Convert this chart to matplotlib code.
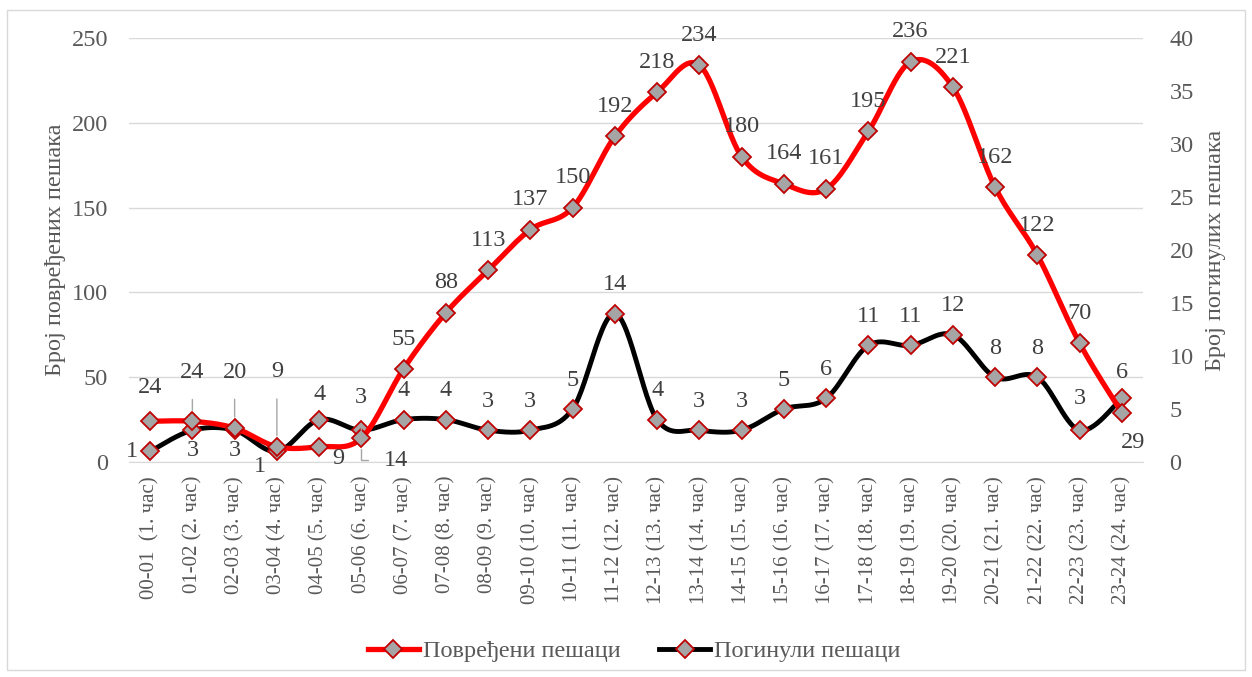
import numpy as np
import matplotlib
matplotlib.use("Agg")
import matplotlib.pyplot as plt
from matplotlib.lines import Line2D
from matplotlib.patches import Rectangle

plt.rcParams['font.family'] = ['Liberation Serif', 'DejaVu Serif']

categories = ["00-01  (1. час)", "01-02 (2. час)", "02-03 (3. час)", "03-04 (4. час)",
              "04-05 (5. час)", "05-06 (6. час)", "06-07 (7. час)", "07-08 (8. час)",
              "08-09 (9. час)", "09-10 (10. час)", "10-11 (11. час)", "11-12 (12. час)",
              "12-13 (13. час)", "13-14 (14. час)", "14-15 (15. час)", "15-16 (16. час)",
              "16-17 (17. час)", "17-18 (18. час)", "18-19 (19. час)", "19-20 (20. час)",
              "20-21 (21. час)", "21-22 (22. час)", "22-23 (23. час)", "23-24 (24. час)"]
injured = [24, 24, 20, 9, 9, 14, 55, 88, 113, 137, 150, 192, 218, 234, 180, 164, 161,
           195, 236, 221, 162, 122, 70, 29]
killed = [1, 3, 3, 1, 4, 3, 4, 4, 3, 3, 5, 14, 4, 3, 3, 5, 6, 11, 11, 12, 8, 8, 3, 6]
left_ticks = [0, 50, 100, 150, 200, 250]
right_ticks = [0, 5, 10, 15, 20, 25, 30, 35, 40]

TXT = '#595959'
GRID = '#D9D9D9'
FS = 17.5


def smooth(xs, ys, n=30):
    xs = np.asarray(xs, float)
    ys = np.asarray(ys, float)
    P = np.column_stack([xs, ys])
    m = len(P)
    out = []
    for i in range(m - 1):
        p0 = P[i - 1] if i > 0 else P[i]
        p1 = P[i]
        p2 = P[i + 1]
        p3 = P[i + 2] if i + 2 < m else P[i + 1]
        c1 = p1 + (p2 - p0) / 6.0
        c2 = p2 - (p3 - p1) / 6.0
        t = np.linspace(0, 1, n)[:, None]
        seg = ((1 - t) ** 3) * p1 + 3 * ((1 - t) ** 2) * t * c1 + 3 * (1 - t) * t ** 2 * c2 + t ** 3 * p2
        if i > 0:
            seg = seg[1:]
        out.append(seg)
    out = np.vstack(out)
    return out[:, 0], out[:, 1]


fig = plt.figure(figsize=(12.52, 6.77), dpi=100)
fig.patches.append(Rectangle((7 / 1252, 7 / 677), 1238 / 1252, 660 / 677, transform=fig.transFigure,
                             fill=False, edgecolor='#D9D9D9', lw=1))
ax = fig.add_axes([129 / 1252, 1 - 462 / 677, (1143 - 129) / 1252, (462 - 38) / 677])
ax2 = ax.twinx()

x = np.arange(len(categories))
ax.set_xlim(-0.5, len(categories) - 0.5)
ax.set_ylim(0, 250)
ax2.set_ylim(0, 40)
ax.set_yticks(left_ticks)
ax2.set_yticks(right_ticks)
ax.yaxis.grid(True, color=GRID, lw=1)
ax.set_axisbelow(True)
for a in (ax, ax2):
    for s in a.spines.values():
        s.set_visible(False)
    a.tick_params(length=0, colors=TXT, labelsize=FS)
ax.spines['bottom'].set_visible(True)
ax.spines['bottom'].set_color(GRID)
ax.tick_params(axis='y', pad=15)
ax2.tick_params(axis='y', pad=19)
ax.set_xticks(x)
ax.set_xticklabels(categories, rotation=90, fontsize=15, color=TXT)
ax.tick_params(axis='x', pad=10)

ax.set_ylabel("Број повређених пешака", fontsize=FS, color=TXT, labelpad=4)
ax2.set_ylabel("Број погинулих пешака", fontsize=FS, color=TXT, rotation=90, labelpad=8)

mk = dict(marker='D', markersize=9, markerfacecolor='#A5A5A5', markeredgecolor='#C00000',
          markeredgewidth=1.3, linestyle='none')

# black series on right axis
sx, sy = smooth(x, killed)
ax2.plot(sx, sy, color='black', lw=3.5, solid_capstyle='round', zorder=3)
ax2.plot(x, killed, zorder=4, **mk)
# red series on left axis scale (drawn above)
ax2.set_zorder(ax.get_zorder() + 1)
rx, ry = smooth(x, injured)
ax2.plot(rx, np.asarray(ry) * 40 / 250, color='#FF0000', lw=3.8, solid_capstyle='round', zorder=5)
ax2.plot(x, np.asarray(injured) * 40 / 250, zorder=6, **mk)

red_off = [(0, 34)] + [(0, 30)] * 23
red_off[1] = (0, 49)
red_off[2] = (0, 56)
red_off[3] = (0, 75)
red_off[4] = (19, -12)
red_off[5] = (35, -22)
red_off[6] = (0, 29)
red_off[23] = (11, -30)
red_leader = {1, 2, 3, 5, 23}

blk_off = [(0, 29)] * 24
blk_off[0] = (-18, 0)
blk_off[1] = (0, -20)
blk_off[2] = (0, -20)
blk_off[3] = (-17, -15)
blk_off[4] = (0, 25)
blk_off[5] = (0, 33)
blk_off[22] = (0, 32)
blk_off[23] = (0, 26)
blk_leader = {5}

for i, v in enumerate(injured):
    dx, dy = red_off[i]
    kw = {}
    if i in red_leader:
        if i == 5:
            cs = "angle,angleA=0,angleB=90,rad=0"
        else:
            cs = "arc3"
        kw['arrowprops'] = dict(arrowstyle='-', color='#A6A6A6', lw=1, shrinkA=10, shrinkB=8,
                                connectionstyle=cs)
    ax2.annotate(str(v), (i, v * 40 / 250), xytext=(dx, dy), textcoords='offset pixels',
                 ha='center', va='center', fontsize=FS, color='#404040', zorder=7, **kw)

for i, v in enumerate(killed):
    dx, dy = blk_off[i]
    kw = {}
    if i in blk_leader:
        kw['arrowprops'] = dict(arrowstyle='-', color='#A6A6A6', lw=1, shrinkA=10, shrinkB=8)
    ax2.annotate(str(v), (i, v), xytext=(dx, dy), textcoords='offset pixels',
                 ha='center', va='center', fontsize=FS, color='#404040', zorder=7, **kw)

handles = [Line2D([], [], color='#FF0000', lw=3.8, marker='D', markersize=9,
                  markerfacecolor='#A5A5A5', markeredgecolor='#C00000', markeredgewidth=1.3),
           Line2D([], [], color='black', lw=3.5, marker='D', markersize=9,
                  markerfacecolor='#A5A5A5', markeredgecolor='#C00000', markeredgewidth=1.3)]
leg = fig.legend(handles, ["Повређени пешаци", "Погинули пешаци"], loc='center',
                 bbox_to_anchor=(634 / 1252, 1 - 651 / 677), ncol=2, frameon=False,
                 fontsize=FS, handlelength=2.1, columnspacing=1.6, handletextpad=0.15,
                 labelcolor=TXT)

fig.savefig("out.png", dpi=100)
